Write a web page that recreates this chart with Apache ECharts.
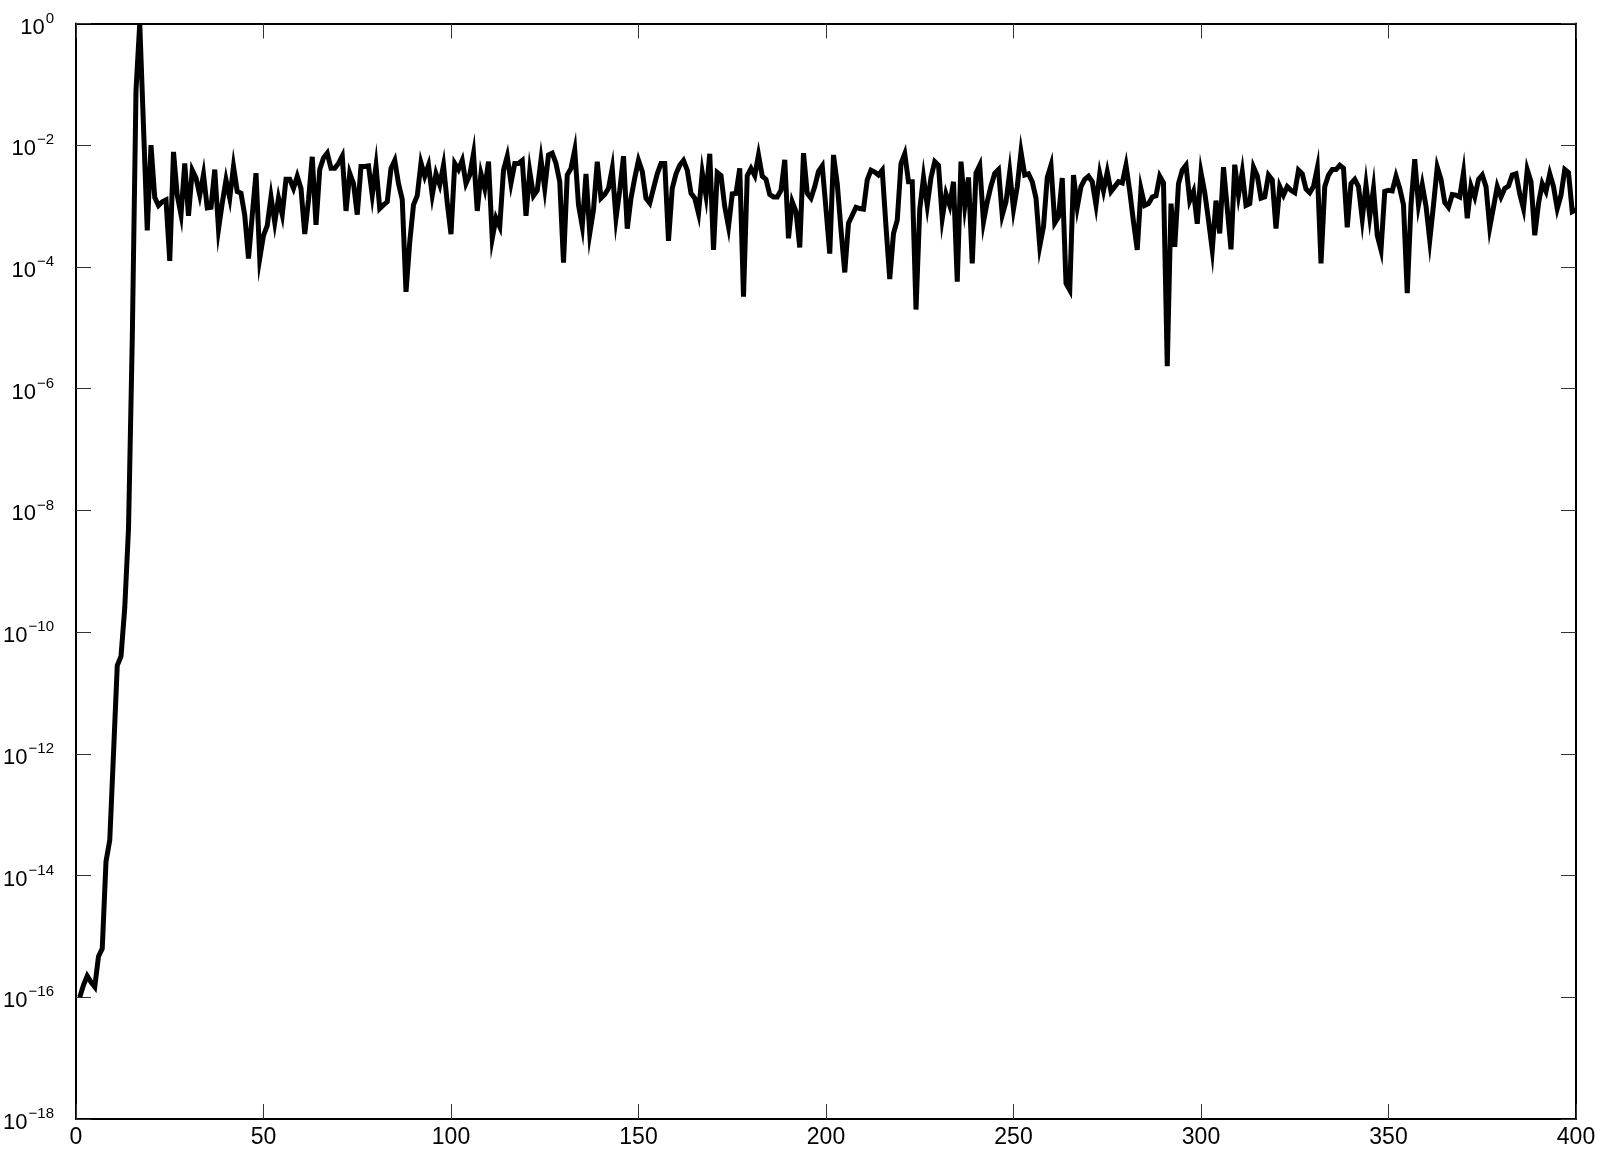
<!DOCTYPE html>
<html>
<head>
<meta charset="utf-8">
<script src="https://cdn.jsdelivr.net/npm/echarts@6/dist/echarts.min.js"></script>
<style>
html,body{margin:0;padding:0;background:#fff;}
#chart{width:1605px;height:1156px;}
</style>
</head>
<body>
<div id="chart"></div>
<script>
// x positions: sample index 1..400
var xStart = 1;
// log10 of the plotted values (one per sample)
var log10Values = [
-16.0,-15.8,-15.65,-15.75,-15.83,-15.33,-15.2,-13.77,-13.42,-12.0,
-10.55,-10.4,-9.6,-8.3,-5.2,-1.1,0.0,-1.7,-3.4,-2.0,
-2.86,-2.99,-2.93,-2.9,-3.9,-2.11,-2.82,-3.14,-2.30,-3.16,
-2.41,-2.54,-2.82,-2.48,-3.03,-3.02,-2.40,-3.38,-2.95,-2.57,
-2.87,-2.35,-2.76,-2.79,-3.15,-3.86,-3.15,-2.46,-3.86,-3.48,
-3.32,-2.85,-3.27,-2.87,-3.14,-2.56,-2.56,-2.71,-2.51,-2.71,
-3.46,-2.9,-2.19,-3.31,-2.40,-2.21,-2.13,-2.38,-2.38,-2.30,
-2.18,-3.08,-2.46,-2.63,-3.14,-2.35,-2.35,-2.34,-2.82,-2.34,
-3.04,-2.98,-2.93,-2.38,-2.25,-2.63,-2.89,-4.41,-3.59,-2.98,
-2.83,-2.29,-2.51,-2.33,-2.82,-2.47,-2.65,-2.33,-2.95,-3.46,
-2.30,-2.40,-2.25,-2.63,-2.49,-2.14,-3.08,-2.47,-2.71,-2.27,
-3.53,-3.20,-3.34,-2.41,-2.18,-2.62,-2.30,-2.30,-2.25,-3.16,
-2.43,-2.83,-2.74,-2.24,-2.71,-2.16,-2.13,-2.30,-2.60,-3.93,
-2.49,-2.38,-2.08,-2.98,-3.33,-2.47,-3.45,-3.06,-2.27,-2.87,
-2.81,-2.71,-2.38,-3.20,-2.74,-2.18,-3.37,-2.87,-2.54,-2.25,
-2.43,-2.87,-2.95,-2.71,-2.47,-2.30,-2.30,-3.57,-2.71,-2.47,
-2.33,-2.25,-2.41,-2.79,-2.87,-3.12,-2.45,-2.83,-2.14,-3.72,
-2.45,-2.50,-3.01,-3.34,-2.80,-2.79,-2.38,-4.49,-2.50,-2.38,
-2.50,-2.16,-2.51,-2.56,-2.81,-2.85,-2.85,-2.74,-2.24,-3.53,
-2.93,-3.09,-3.68,-2.13,-2.79,-2.87,-2.68,-2.43,-2.34,-3.05,
-3.78,-2.16,-2.63,-3.39,-4.09,-3.28,-3.15,-3.02,-3.04,-3.05,
-2.57,-2.41,-2.44,-2.49,-2.41,-3.34,-4.20,-3.45,-3.23,-2.30,
-2.14,-2.60,-2.60,-4.70,-3.05,-2.53,-2.99,-2.53,-2.27,-2.33,
-3.20,-2.80,-2.99,-2.60,-4.24,-2.27,-3.0,-2.53,-3.94,-2.46,
-2.33,-3.26,-2.93,-2.67,-2.46,-2.40,-3.15,-2.93,-2.44,-3.05,
-2.68,-2.11,-2.49,-2.47,-2.60,-2.87,-3.66,-3.34,-2.53,-2.33,
-3.28,-3.18,-2.54,-4.27,-4.38,-2.49,-3.02,-2.68,-2.56,-2.51,
-2.60,-2.98,-2.47,-2.75,-2.44,-2.76,-2.68,-2.60,-2.62,-2.33,
-2.76,-3.26,-3.72,-2.72,-2.99,-2.96,-2.85,-2.83,-2.51,-2.62,
-5.63,-2.96,-3.67,-2.63,-2.41,-2.33,-2.91,-2.76,-3.29,-2.45,
-2.78,-3.23,-3.72,-2.91,-3.45,-2.36,-3.04,-3.71,-2.32,-2.82,
-2.44,-2.99,-2.96,-2.36,-2.50,-2.87,-2.85,-2.49,-2.57,-3.37,
-2.68,-2.82,-2.68,-2.74,-2.78,-2.41,-2.47,-2.72,-2.78,-2.68,
-2.38,-3.94,-2.68,-2.49,-2.40,-2.40,-2.33,-2.38,-3.35,-2.63,
-2.56,-2.68,-3.21,-2.65,-3.17,-2.71,-3.48,-3.72,-2.76,-2.74,
-2.75,-2.51,-2.71,-2.98,-4.43,-2.98,-2.23,-2.98,-2.65,-3.0,
-3.56,-2.98,-2.36,-2.56,-2.94,-3.02,-2.81,-2.82,-2.85,-2.45,
-3.20,-2.67,-2.85,-2.56,-2.49,-2.68,-3.35,-3.02,-2.68,-2.85,
-2.71,-2.67,-2.49,-2.47,-2.80,-3.04,-2.40,-2.60,-3.48,-2.96,
-2.63,-2.76,-2.47,-2.68,-3.04,-2.82,-2.40,-2.45,-3.09,-3.06
];
// axis ranges / ticks
var xMin = 0, xMax = 400, xStep = 50;
var yMin = 1e-18, yMax = 1;
// y ticks every two decades: 1e-18, 1e-16, ... , 1e0 (log base 100)
var yLogBase = 100;

var seriesData = log10Values.map(function (v, i) {
  return [xStart + i, Math.pow(10, v)];
});

function supLabel(value) {
  var e = Math.round(Math.log10(value));
  var s = e === 0 ? '0' : '\u2212' + String(-e);
  return '{b|10}{s|' + s + '}';
}

var chart = echarts.init(document.getElementById('chart'), null, {renderer: 'canvas'});
var font = 'Liberation Sans, Arial, Helvetica, sans-serif';
var tickStyle = {color: '#333', width: 1};
var axisLineStyle = {color: '#000', width: 2};

chart.setOption({
  animation: false,
  backgroundColor: '#fff',
  grid: {left: 76, right: 29, top: 23.5, bottom: 37, containLabel: false},
  xAxis: [{
    type: 'value', min: xMin, max: xMax, interval: xStep, position: 'bottom',
    axisLine: {show: true, onZero: false, lineStyle: axisLineStyle},
    axisTick: {show: true, inside: true, length: 15, lineStyle: tickStyle},
    axisLabel: {color: '#000', fontSize: 23, fontFamily: font, margin: 7},
    splitLine: {show: false}
  }, {
    type: 'value', min: xMin, max: xMax, interval: xStep, position: 'top',
    axisLine: {show: true, onZero: false, lineStyle: axisLineStyle},
    axisTick: {show: true, inside: true, length: 15, lineStyle: tickStyle},
    axisLabel: {show: false},
    splitLine: {show: false}
  }],
  yAxis: [{
    type: 'log', logBase: yLogBase, min: yMin, max: yMax, splitNumber: 9, position: 'left',
    axisLine: {show: true, onZero: false, lineStyle: axisLineStyle},
    axisTick: {show: true, inside: true, length: 15, lineStyle: tickStyle},
    minorTick: {show: false},
    axisLabel: {
      margin: 22,
      formatter: supLabel,
      rich: {
        b: {fontSize: 22, fontFamily: font, color: '#000', padding: [8, 0, 0, 0]},
        s: {fontSize: 15, fontFamily: font, color: '#000', padding: [0, 0, 10, 1]}
      }
    },
    splitLine: {show: false}
  }, {
    type: 'log', logBase: yLogBase, min: yMin, max: yMax, splitNumber: 9, position: 'right',
    axisLine: {show: true, onZero: false, lineStyle: axisLineStyle},
    axisTick: {show: true, inside: true, length: 15, lineStyle: tickStyle},
    axisLabel: {show: false},
    splitLine: {show: false}
  }],
  series: [{
    type: 'line',
    xAxisIndex: 0, yAxisIndex: 0,
    data: seriesData,
    showSymbol: false,
    symbol: 'none',
    clip: true,
    lineStyle: {color: '#000', width: 5, join: 'miter', cap: 'butt'}
  }]
});
</script>
</body>
</html>
